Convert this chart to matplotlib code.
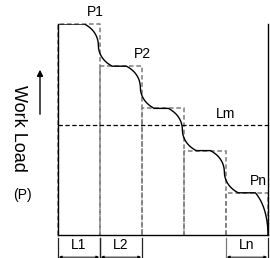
import matplotlib.pyplot as plt
import numpy as np

plt.rcParams['font.family'] = ['Liberation Sans', 'DejaVu Sans']

# carga de cada escalon (P1 ... Pn) y carga media
cargas = [5.0, 4.0, 3.0, 2.0, 1.0]
carga_media = 2.6
etiquetas_p = ["P1", "P2", "", "", "Pn"]
etiquetas_l = ["L1", "L2", "", "", "Ln"]

n = len(cargas)
gris = "#7a7a7a"

fig = plt.figure(figsize=(2.7, 2.58), dpi=100)
ax = fig.add_axes([58/270, 23/258, 210/270, 211/258])
ax.set_xlim(0, n)
ax.set_ylim(0, cargas[0])


def forma(t):
    # perfil suave de la bajada entre escalones
    return 0.7 * t + 0.3 * np.sin(np.pi * t / 2)


# curva suave que sigue a los escalones
xs = [0.0]
ys = [cargas[0]]
t = np.linspace(-1, 1, 80)
w = 0.33
for k in range(n - 1):
    c = k + 1 - 0.04
    h = cargas[k] - cargas[k + 1]
    ym = (cargas[k] + cargas[k + 1]) / 2
    xs += list(c + w * np.sign(t) * t**2)
    ys += list(ym - h / 2 * forma(t))
t2 = np.linspace(-1, 0, 50)
xs += list(n + 0.3 * np.sign(t2) * t2**2)
ys += list(-cargas[-1] * forma(t2))
ax.plot(xs, ys, color="black", lw=1.0, zorder=3)

# rectangulos punteados de cada escalon
for k, p in enumerate(cargas):
    ax.plot([k, k, k + 1, k + 1], [0, p, p, 0], color=gris, lw=1.1,
            ls=(0, (3, 1.8)), zorder=2, clip_on=False)

# carga media Lm
ax.axhline(carga_media, color="black", lw=0.9, ls=(0, (3.5, 2)), zorder=2)
ax.text(4.0, carga_media + 0.1, "Lm", fontsize=10, ha="center", va="bottom")

# etiquetas de los escalones
pos_p = {0: (0.9, 0.12), 1: (2.0, 0.12), 4: (4.76, 0.12)}
for k, lab in enumerate(etiquetas_p):
    if lab:
        dx, dy = pos_p[k]
        ax.text(dx, cargas[k] + dy, lab, fontsize=10, ha="center", va="bottom",
                clip_on=False)

# ejes
ax.spines["top"].set_visible(False)
for s in ["left", "bottom", "right"]:
    ax.spines[s].set_linewidth(1.0)
ax.set_xticks([])
ax.set_yticks([])

# cotas L1, L2, Ln debajo del eje
tr = ax.get_xaxis_transform()
for k, lab in enumerate(etiquetas_l):
    if not lab:
        continue
    for xx in [k, k + 1]:
        col = gris if xx == n - 1 else "#222222"
        ax.plot([xx, xx], [-0.014, -0.11], color=col, lw=0.9,
                transform=tr, clip_on=False)
    ax.annotate("", xy=(k + 0.02, -0.105), xytext=(k + 0.98, -0.105),
                xycoords=tr, textcoords=tr,
                arrowprops=dict(arrowstyle="<|-|>", color="black", lw=0.7,
                                mutation_scale=4, shrinkA=0, shrinkB=0))
    ax.text(k + 0.5, -0.047, lab, fontsize=10, ha="center", va="center",
            transform=tr)

# titulo del eje y con flecha
fig.text(18/270, 1 - 128/258, "Work Load", fontsize=13, rotation=270,
         ha="center", va="center")
fig.text(22/270, 1 - 195/258, "(P)", fontsize=10, ha="center", va="center")
fig.add_artist(plt.matplotlib.patches.FancyArrowPatch(
    (40/270, 1 - 117/258), (40/270, 1 - 67/258), transform=fig.transFigure,
    arrowstyle="-|>", mutation_scale=9, color="black", lw=1.0))

fig.savefig("out.png", dpi=100)
